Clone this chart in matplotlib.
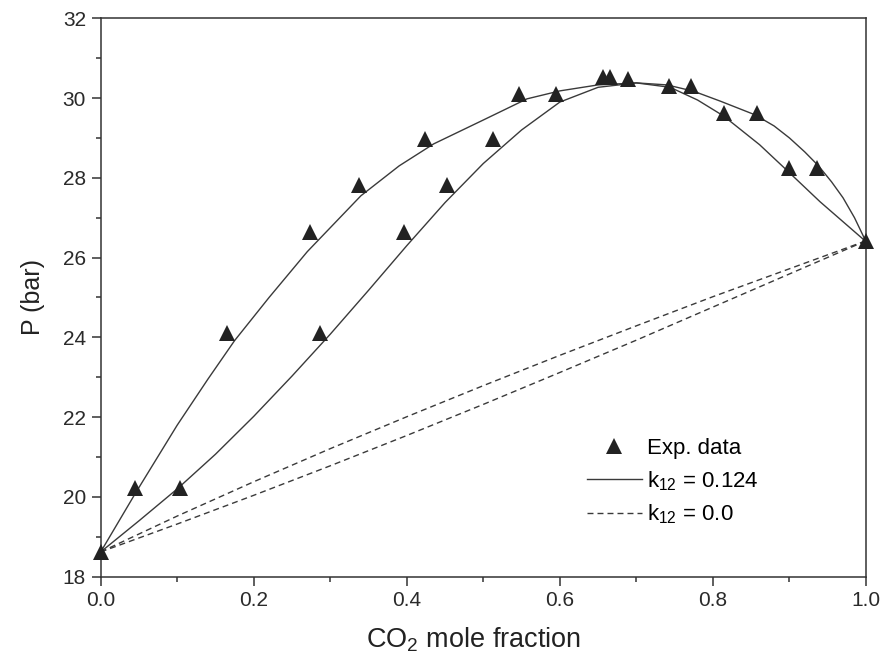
import matplotlib
matplotlib.use("Agg")
import matplotlib.pyplot as plt
from matplotlib.lines import Line2D
from matplotlib.ticker import MultipleLocator, FormatStrFormatter

plt.rcParams['font.family'] = ['Liberation Sans', 'DejaVu Sans']
plt.rcParams['mathtext.default'] = 'regular'

# experimental points (CO2 mole fraction, P in bar)
exp_x = [0.0, 0.045, 0.104, 0.165, 0.286, 0.273, 0.396, 0.338, 0.452, 0.424, 0.513,
         0.547, 0.595, 0.657, 0.666, 0.689, 0.743, 0.771, 0.815, 0.857, 0.899, 0.936, 1.0]
exp_p = [18.62, 20.23, 20.23, 24.12, 24.12, 26.64, 26.64, 27.83, 27.83, 28.97, 28.97,
         30.10, 30.10, 30.52, 30.52, 30.49, 30.31, 30.31, 29.62, 29.62, 28.25, 28.25, 26.42]

# k12 = 0.124, bubble curve
bub_x = [0.0, 0.045, 0.10, 0.14, 0.175, 0.22, 0.27, 0.34, 0.39, 0.435, 0.50, 0.557,
         0.60, 0.65, 0.70, 0.74, 0.775, 0.81, 0.855, 0.88, 0.90, 0.92, 0.938, 0.955,
         0.97, 0.985, 1.0]
bub_p = [18.62, 20.08, 21.8, 22.95, 23.92, 25.0, 26.15, 27.55, 28.3, 28.85, 29.45, 29.98,
         30.18, 30.33, 30.38, 30.33, 30.17, 29.92, 29.58, 29.3, 29.0, 28.65, 28.3, 27.9,
         27.5, 27.0, 26.4]

# k12 = 0.124, dew curve
dew_x = [0.0, 0.05, 0.10, 0.15, 0.20, 0.25, 0.30, 0.35, 0.40, 0.45, 0.50, 0.55,
         0.60, 0.65, 0.70, 0.744, 0.78, 0.814, 0.861, 0.896, 0.94, 0.97, 1.0]
dew_p = [18.62, 19.4, 20.2, 21.07, 22.02, 23.03, 24.08, 25.18, 26.3, 27.38, 28.36, 29.2,
         29.9, 30.27, 30.38, 30.27, 29.95, 29.55, 28.83, 28.2, 27.4, 26.9, 26.4]

# k12 = 0.0 curves
k0_x = [0.0, 0.1, 0.2, 0.3, 0.4, 0.5, 0.6, 0.7, 0.8, 0.9, 1.0]
k0_bub = [18.62, 19.52, 20.38, 21.21, 22.01, 22.79, 23.55, 24.29, 25.02, 25.72, 26.42]
k0_dew = [18.62, 19.32, 20.04, 20.78, 21.54, 22.32, 23.12, 23.93, 24.76, 25.59, 26.42]

line_c = '#3a3a3a'
dash = (0, (4.3, 2.9))

fig = plt.figure(figsize=(8.88, 6.58), dpi=100)
ax = fig.add_axes([0.1134, 0.1236, 0.8618, 0.8486])

ax.plot(bub_x, bub_p, color=line_c, lw=1.0)
ax.plot(dew_x, dew_p, color=line_c, lw=1.0)
ax.plot(k0_x, k0_bub, color=line_c, lw=1.0, linestyle=dash)
ax.plot(k0_x, k0_dew, color=line_c, lw=1.0, linestyle=dash)
ax.plot(exp_x, exp_p, linestyle='none', marker='^', ms=11, color='#222222',
        markeredgewidth=0, clip_on=False, zorder=5)

ax.set_xlim(0.0, 1.0)
ax.set_ylim(18, 32)
ax.xaxis.set_major_locator(MultipleLocator(0.2))
ax.xaxis.set_minor_locator(MultipleLocator(0.1))
ax.yaxis.set_major_locator(MultipleLocator(2))
ax.yaxis.set_minor_locator(MultipleLocator(1))
ax.xaxis.set_major_formatter(FormatStrFormatter('%.1f'))

for s in ax.spines.values():
    s.set_linewidth(1.1)
    s.set_color('#333333')
ax.tick_params(which='major', direction='out', length=6.5, width=1.1, color='#333333',
               labelsize=15, labelcolor='#2a2a2a', pad=4)
ax.tick_params(which='minor', direction='out', length=3.8, width=1.1, color='#333333')
ax.tick_params(top=False, right=False, which='both')

ax.set_xlabel('CO$_2$ mole fraction', fontsize=19.5, color='#222222')
ax.xaxis.set_label_coords(0.487, -0.088)
ax.set_ylabel('P (bar)', fontsize=18, color='#222222', labelpad=13)

handles = [
    Line2D([], [], linestyle='none', marker='^', ms=11, color='#222222', markeredgewidth=0),
    Line2D([], [], color=line_c, lw=1.0),
    Line2D([], [], color=line_c, lw=1.0, linestyle=dash),
]
labels = ['Exp. data', 'k$_{12}$ = 0.124', 'k$_{12}$ = 0.0']
ax.legend(handles, labels, loc='upper left', bbox_to_anchor=(0.635, 0.248),
          frameon=False, fontsize=16, handlelength=2.5, handletextpad=0.2,
          labelspacing=0.45, borderpad=0, borderaxespad=0)

fig.savefig('out.png', dpi=100)
